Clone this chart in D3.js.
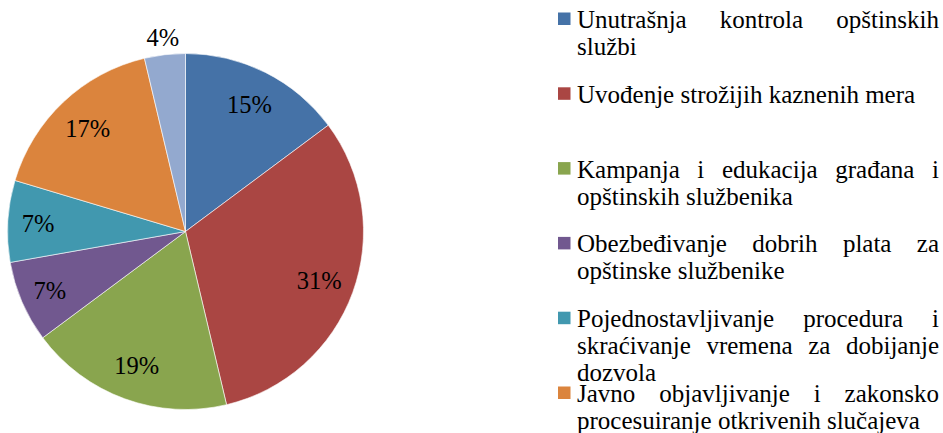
<!DOCTYPE html>
<html>
<head>
<meta charset="utf-8">
<script src="https://cdn.jsdelivr.net/npm/d3@7"></script>
<style>
  body { margin: 0; background: #fff; }
  svg { display: block; overflow: hidden; }
</style>
</head>
<body>
<div id="chart"></div>
<script>
// categories (legend order = slice order, clockwise from 12 o'clock)
// "\n" marks where the legend entry wraps in the original
var categories = [
    "Unutrašnja kontrola opštinskih\nslužbi",
    "Uvođenje strožijih kaznenih mera",
    "Kampanja i edukacija građana i\nopštinskih službenika",
    "Obezbeđivanje dobrih plata za\nopštinske službenike",
    "Pojednostavljivanje procedura i\nskraćivanje vremena za dobijanje\ndozvola",
    "Javno objavljivanje i zakonsko\nprocesuiranje otkrivenih slučajeva",
    "Ostalo"
];
// number of answers per category
var counts = [8, 17, 10, 4, 4, 9, 2];
var colors = ["#4572A7", "#AA4643", "#89A54E", "#71588F", "#4198AF", "#DB843D", "#93A9CF"];

var width = 943,
    height = 433;

var FONT = "'Liberation Serif', 'Times New Roman', serif";

var svg = d3.select("#chart")
    .append("svg")
    .attr("width", width)
    .attr("height", height);

// ---- pie ----
var cx = 185.5, cy = 231.5, radius = 178;

var total = d3.sum(counts);
var data = counts.map(function (v, i) {
    return {name: categories[i], value: v, color: colors[i]};
});

var pie = d3.pie()
    .sort(null)
    .value(function (d) { return d.value; });

var arc = d3.arc()
    .innerRadius(0)
    .outerRadius(radius);

var arcs = pie(data);

var g = svg.append("g")
    .attr("transform", "translate(" + cx + "," + cy + ")");

g.selectAll(".slice")
    .data(arcs)
    .enter().append("path")
    .attr("class", "slice")
    .attr("d", arc)
    .attr("fill", function (d) { return d.data.color; })
    .attr("stroke", "#fff")
    .attr("stroke-width", 0.6);

// labels: inside for big slices, outside for the tiny one
function labelRadius(d) {
    var share = d.data.value / total;
    if (share < 0.05) return radius + 17;
    if (share < 0.1) return radius * 0.83;
    return radius * 0.8;
}

var fmt = d3.format(".0%");

g.selectAll(".lbl")
    .data(arcs)
    .enter().append("text")
    .attr("class", "lbl")
    .attr("x", function (d) {
        var a = (d.startAngle + d.endAngle) / 2;
        return Math.sin(a) * labelRadius(d);
    })
    .attr("y", function (d) {
        var a = (d.startAngle + d.endAngle) / 2;
        return -Math.cos(a) * labelRadius(d);
    })
    .attr("dy", "0.35em")
    .attr("text-anchor", "middle")
    .attr("font-family", FONT)
    .attr("font-size", 24.5)
    .attr("fill", "#000")
    .text(function (d) { return fmt(d.data.value / total); });

// ---- legend ----
var legX = 558,
    textX = 577,
    textW = 362,
    lineH = 27,
    fs = 25;

var legY = d3.scaleLinear()
    .domain([0, categories.length - 1])
    .range([28, 28 + 74.8 * (categories.length - 1)]);

var leg = svg.append("g").attr("class", "legend");

var probe = leg.append("text").attr("font-family", FONT).attr("font-size", fs);
function measure(s) {
    probe.text(s);
    return probe.node().getComputedTextLength();
}
var space = measure("a a") - measure("aa");

data.forEach(function (d, i) {
    var base = legY(i);

    leg.append("rect")
        .attr("x", legX)
        .attr("y", base - 15.5)
        .attr("width", 12.5)
        .attr("height", 12.5)
        .attr("fill", d.color);

    // justify every line but the last one
    var lines = d.name.split("\n");
    lines.forEach(function (line, li) {
        var words = line.split(" ");
        var widths = words.map(measure);
        var last = li === lines.length - 1;
        var wordsW = d3.sum(widths);
        var gap = (!last && words.length > 1) ? (textW - wordsW) / (words.length - 1) : space;
        var x = textX;
        words.forEach(function (w, k) {
            leg.append("text")
                .attr("x", x)
                .attr("y", base + li * lineH)
                .attr("font-family", FONT)
                .attr("font-size", fs)
                .attr("fill", "#000")
                .text(w);
            x += widths[k] + gap;
        });
    });
});
probe.remove();
</script>
</body>
</html>
